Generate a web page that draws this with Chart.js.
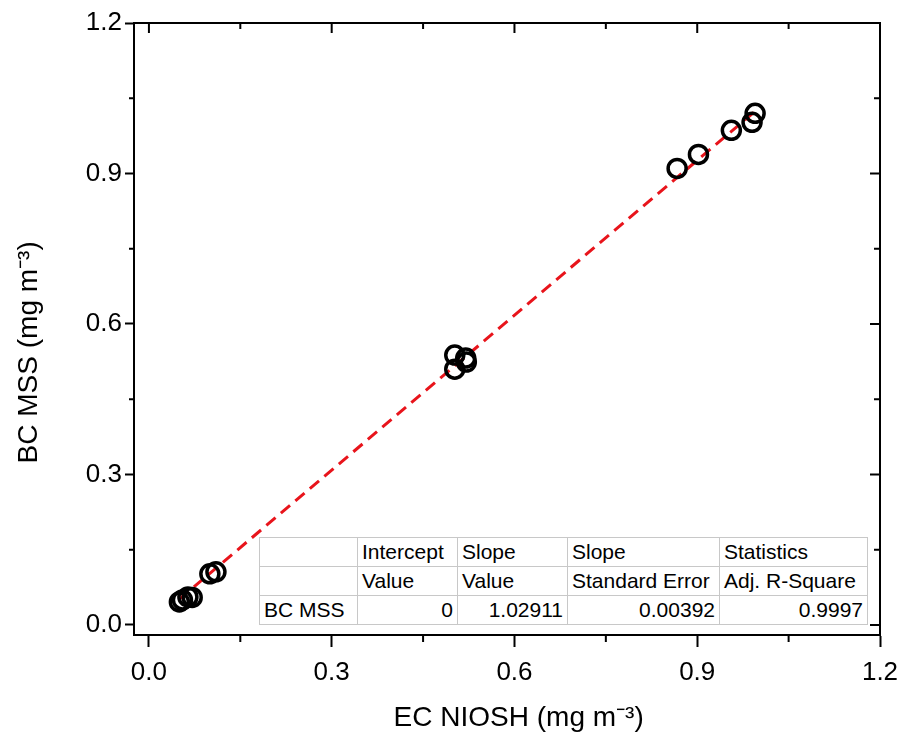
<!DOCTYPE html>
<html>
<head>
<meta charset="utf-8">
<script src="https://cdn.jsdelivr.net/npm/chart.js@4"></script>
<style>
  html, body { margin: 0; padding: 0; background: #fff; }
  #wrap { position: relative; width: 905px; height: 751px; }
  #fitTable {
    position: absolute; left: 259px; top: 537px;
    border-collapse: collapse; border: 1.5px solid #444;
    font-family: "Liberation Sans", Arial, sans-serif; font-size: 21px; color: #000;
    background: #fff;
  }
  #fitTable td { border: 1px solid #c8c8c8; height: 28px; padding: 0 4px; white-space: nowrap; line-height: 28px; overflow: hidden; }
  #fitTable td.num { text-align: right; }
</style>
</head>
<body>
<div id="wrap">
  <canvas id="myChart" width="905" height="751"></canvas>
  <table id="fitTable"></table>
</div>
<script>
// Measured points, EC NIOSH vs BC MSS (mg m-3)
const ecNiosh = [0.050, 0.055, 0.064, 0.071, 0.100, 0.110, 0.502, 0.502, 0.520, 0.521, 0.867, 0.902, 0.956, 0.990, 0.995];
const bcMss   = [0.046, 0.050, 0.056, 0.055, 0.102, 0.106, 0.510, 0.538, 0.532, 0.524, 0.910, 0.938, 0.986, 1.002, 1.020];

// Axis ticks
const xMajorTicks = [0, 0.3, 0.6, 0.9, 1.2];
const xMinorTicks = [0.15, 0.45, 0.75, 1.05];
const yMajorTicks = [0, 0.3, 0.6, 0.9, 1.2];
const yMinorTicks = [0.15, 0.45, 0.75, 1.05];
const tickLabels = ['0.0', '0.3', '0.6', '0.9', '1.2'];

// Linear fit results table
const tableHead = ['', 'Intercept', 'Slope', 'Slope', 'Statistics'];
const tableSub = ['', 'Value', 'Value', 'Standard Error', 'Adj. R-Square'];
const tableRow = ['BC MSS', '0', '1.02911', '0.00392', '0.9997'];
const colWidths = [98, 100, 110, 152, 148];

const slope = parseFloat(tableRow[2]);
const fitX = [Math.min(...ecNiosh), Math.max(...ecNiosh)];
const fitLine = fitX.map(x => ({ x: x, y: slope * x }));
const points = ecNiosh.map((x, i) => ({ x: x, y: bcMss[i] }));

// build the table
const table = document.getElementById('fitTable');
[tableHead, tableSub, tableRow].forEach((row, r) => {
    const tr = document.createElement('tr');
    row.forEach((txt, c) => {
        const td = document.createElement('td');
        td.textContent = txt;
        td.style.width = (colWidths[c] - 9) + 'px';
        td.style.maxWidth = (colWidths[c] - 9) + 'px';
        if (r === 2 && c > 0) td.className = 'num';
        tr.appendChild(td);
    });
    table.appendChild(tr);
});

const fontFamily = '"Liberation Sans", Arial, sans-serif';

const setTicks = (major, minor) => axis => {
    axis.ticks = major.concat(minor).sort((a, b) => a - b).map(v => ({ value: v }));
};
const tickLabel = major => function (value) {
    const i = major.findIndex(v => Math.abs(v - value) < 1e-9);
    return i >= 0 ? tickLabels[i] : '';
};
const isMajor = (major, v) => major.some(m => Math.abs(m - v) < 1e-9);

// frame on top/right plus minor ticks and inward mirrored ticks
const framePlugin = {
    id: 'frame',
    afterDraw(chart) {
        const { ctx, chartArea: a, scales } = chart;
        ctx.save();
        ctx.strokeStyle = '#000';
        ctx.lineWidth = 2;
        ctx.beginPath();
        ctx.moveTo(a.left, a.top); ctx.lineTo(a.right, a.top); ctx.lineTo(a.right, a.bottom);
        ctx.stroke();
        ctx.beginPath();
        xMajorTicks.forEach(v => {
            const p = scales.x.getPixelForValue(v);
            ctx.moveTo(p, a.top); ctx.lineTo(p, a.top + 10);
        });
        xMinorTicks.forEach(v => {
            const p = scales.x.getPixelForValue(v);
            ctx.moveTo(p, a.top); ctx.lineTo(p, a.top + 6);
            ctx.moveTo(p, a.bottom); ctx.lineTo(p, a.bottom + 7);
        });
        yMajorTicks.forEach(v => {
            const p = scales.y.getPixelForValue(v);
            ctx.moveTo(a.right, p); ctx.lineTo(a.right - 10, p);
        });
        yMinorTicks.forEach(v => {
            const p = scales.y.getPixelForValue(v);
            ctx.moveTo(a.right, p); ctx.lineTo(a.right - 6, p);
            ctx.moveTo(a.left, p); ctx.lineTo(a.left - 5, p);
        });
        ctx.stroke();
        ctx.restore();
    }
};

const ctx = document.getElementById('myChart').getContext('2d');
const myChart = new Chart(ctx, {
    type: 'scatter',
    data: {
        datasets: [{
            label: 'Linear fit',
            type: 'line',
            data: fitLine,
            borderColor: '#e8141b',
            borderWidth: 3,
            borderDash: [12, 7],
            pointRadius: 0,
            fill: false,
            order: 2,
        }, {
            label: 'BC MSS',
            data: points,
            pointStyle: 'circle',
            pointRadius: 9,
            pointBorderWidth: 3.5,
            borderColor: '#000',
            backgroundColor: 'rgba(0,0,0,0)',
            order: 1,
        }],
    },
    options: {
        responsive: false,
        animation: false,
        layout: { padding: { top: 23, right: 25, left: 0, bottom: 0 } },
        plugins: {
            legend: { display: false },
            tooltip: { enabled: false },
        },
        scales: {
            x: {
                type: 'linear',
                min: -0.0245,
                max: 1.2,
                afterBuildTicks: setTicks(xMajorTicks, xMinorTicks),
                afterFit: scale => {
                    scale.height = 116;
                    scale.paddingLeft = 0;
                    scale.paddingRight = 0;
                },
                ticks: {
                    callback: tickLabel(xMajorTicks),
                    autoSkip: false,
                    maxRotation: 0,
                    padding: 10,
                    color: '#000',
                    font: { family: fontFamily, size: 26 },
                },
                grid: {
                    drawOnChartArea: false,
                    drawTicks: true,
                    tickLength: 12,
                    tickWidth: 2,
                    tickColor: c => isMajor(xMajorTicks, c.tick.value) ? '#000' : 'rgba(0,0,0,0)',
                },
                border: { color: '#000', width: 2 },
                title: {
                    display: true,
                    text: '   EC NIOSH (mg m⁻³)',
                    color: '#000',
                    font: { family: fontFamily, size: 28 },
                    padding: { top: 0, bottom: 16 },
                },
            },
            y: {
                type: 'linear',
                min: -0.02,
                max: 1.2,
                afterBuildTicks: setTicks(yMajorTicks, yMinorTicks),
                afterFit: scale => {
                    scale.width = 134;
                    scale.paddingTop = 0;
                    scale.paddingBottom = 0;
                },
                ticks: {
                    callback: tickLabel(yMajorTicks),
                    autoSkip: false,
                    padding: 3,
                    color: '#000',
                    font: { family: fontFamily, size: 26 },
                },
                grid: {
                    drawOnChartArea: false,
                    drawTicks: true,
                    tickLength: 9,
                    tickWidth: 2,
                    tickColor: c => isMajor(yMajorTicks, c.tick.value) ? '#000' : 'rgba(0,0,0,0)',
                },
                border: { color: '#000', width: 2 },
                title: {
                    display: true,
                    text: 'BC MSS (mg m⁻³)      ',
                    color: '#000',
                    font: { family: fontFamily, size: 28 },
                    padding: { top: 12, bottom: 0 },
                },
            },
        },
    },
    plugins: [framePlugin],
});
</script>
</body>
</html>
